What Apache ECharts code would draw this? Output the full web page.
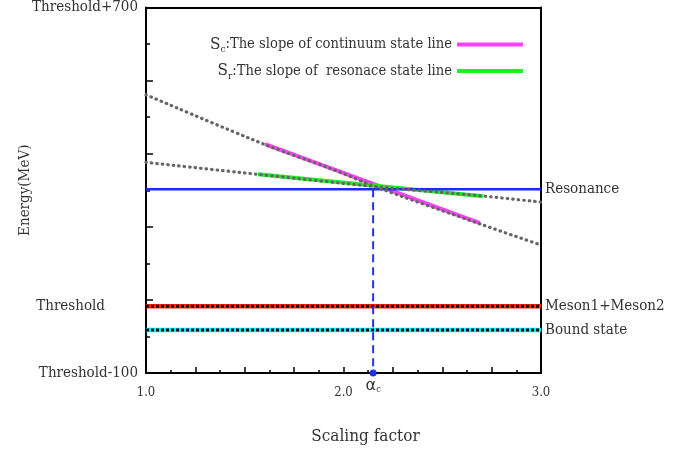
<!DOCTYPE html>
<html>
<head>
<meta charset="utf-8">
<script src="https://cdn.jsdelivr.net/npm/echarts@6/dist/echarts.min.js"></script>
<style>
html,body{margin:0;padding:0;background:#fff;}
#c{width:684px;height:452px;}
</style>
</head>
<body>
<div id="c"></div>
<script>
// ---- data (y in units where 0 = "Threshold-100", 800 = "Threshold+700") ----
const steepX = [1.0, 1.613, 1.932, 2.185, 2.706, 3.0];
const steepY = [609, 498, 448, 404, 324, 280];
const shallowX = [1.0, 1.562, 2.185, 2.691, 3.0];
const shallowY = [461, 435, 407, 388, 374];
const scX = [1.603, 2.691];
const scY = [501, 328];
const srX = [1.567, 2.706];
const srY = [435, 387];
const resonanceLevel = 402;
const mesonLevel = 146;
const boundLevel = 94;
const alphaC = 2.15;
const xMin = 1, xMax = 3;
const yMin = 0, yMax = 800;
const xTickLabels = {1: '1.0', 2: '2.0', 3: '3.0'};
const yTickLabels = {0: 'Threshold-100', 800: 'Threshold+700'};
const legendSc = '{s|S}{sub|c}{t|:The slope of continuum state line}';
const legendSr = '{s|S}{sub|r}{t|:The slope of  resonace state line}';

const FONT = '"DejaVu Serif Condensed", "Liberation Serif", serif';
const TXT = '#333';
const zip = (xs, ys) => xs.map((x, i) => [x, ys[i]]);
const hline = (v) => [[xMin, v], [xMax, v]];

const chart = echarts.init(document.getElementById('c'));
const dotted = {type: [0.5, 5], cap: 'round', width: 3.2, color: '#666'};
const sq = {type: [3, 2], cap: 'butt', width: 3, color: '#111'};
const lab = (text, pos, dist) => ({show: true, position: pos, distance: dist, formatter: text,
  fontFamily: FONT, fontSize: 15, color: TXT});

chart.setOption({
  animation: false,
  backgroundColor: '#fff',
  textStyle: {fontFamily: FONT, color: TXT},
  grid: {left: 146, right: 143, top: 7, bottom: 79, containLabel: false},
  legend: {
    orient: 'vertical', right: 156, top: 31, align: 'right',
    itemWidth: 66, itemHeight: 4, itemGap: 8, icon: 'rect',
    data: ['Sc', 'Sr'],
    formatter: (n) => n === 'Sc' ? legendSc : legendSr,
    textStyle: {
      fontFamily: FONT, color: TXT, fontSize: 14.6,
      rich: {
        s: {fontSize: 17, fontFamily: FONT, color: TXT},
        sub: {fontSize: 10, fontFamily: FONT, color: TXT, padding: [10, 0, 0, 0]},
        t: {fontSize: 14.6, fontFamily: FONT, color: TXT}
      }
    }
  },
  xAxis: [{
    type: 'value', position: 'bottom', min: xMin, max: xMax, interval: 0.25,
    name: 'Scaling factor', nameLocation: 'middle', nameGap: 55, nameMoveOverlap: false,
    nameTextStyle: {fontFamily: FONT, fontSize: 17, color: TXT, padding: [0, 0, 0, 44]},
    axisLine: {show: true, onZero: false, lineStyle: {color: '#000', width: 2}},
    axisTick: {show: true, inside: true, length: 6, lineStyle: {color: '#000', width: 1.5}},
    minorTick: {show: true, splitNumber: 2, length: 3, lineStyle: {color: '#000', width: 1.5}},
    axisLabel: {margin: 13, fontSize: 13, fontFamily: FONT, color: TXT,
      formatter: (v) => xTickLabels[Math.round(v * 1000) / 1000] || ''},
    splitLine: {show: false}
  }, {
    type: 'value', position: 'top', min: xMin, max: xMax,
    axisLine: {show: true, onZero: false, lineStyle: {color: '#000', width: 2}},
    axisTick: {show: false}, axisLabel: {show: false}, splitLine: {show: false}
  }],
  yAxis: [{
    type: 'value', position: 'left', min: yMin, max: yMax, interval: 160,
    name: 'Energy(MeV)', nameLocation: 'middle', nameGap: 113, nameRotate: 90, nameMoveOverlap: false,
    nameTextStyle: {fontFamily: FONT, fontSize: 15, color: TXT},
    axisLine: {show: true, onZero: false, lineStyle: {color: '#000', width: 2}},
    axisTick: {show: true, inside: true, length: 7, lineStyle: {color: '#000', width: 1.5}},
    minorTick: {show: true, splitNumber: 2, length: 4, lineStyle: {color: '#000', width: 1.5}},
    axisLabel: {margin: 8, fontSize: 15, fontFamily: FONT, color: TXT,
      formatter: (v) => yTickLabels[v] || ''},
    splitLine: {show: false}
  }, {
    type: 'value', position: 'right', min: yMin, max: yMax,
    axisLine: {show: true, onZero: false, lineStyle: {color: '#000', width: 2}},
    axisTick: {show: false}, axisLabel: {show: false}, splitLine: {show: false}
  }],
  series: [
    {name: 'Sc', type: 'line', data: zip(scX, scY), showSymbol: false, symbol: 'none',
     lineStyle: {color: '#ff40ff', width: 4}, itemStyle: {color: '#ff40ff'}, z: 2},
    {name: 'Sr', type: 'line', data: zip(srX, srY), showSymbol: false, symbol: 'none',
     lineStyle: {color: '#22ee22', width: 4}, itemStyle: {color: '#22ee22'}, z: 2},
    {name: 'steep', type: 'line', data: zip(steepX, steepY), smooth: 0.3, showSymbol: false, symbol: 'none',
     lineStyle: dotted, z: 3},
    {name: 'shallow', type: 'line', data: zip(shallowX, shallowY), smooth: 0.3, showSymbol: false, symbol: 'none',
     lineStyle: dotted, z: 3},
    {name: 'resonance', type: 'line', showSymbol: true, symbol: 'circle', symbolSize: 0, clip: false,
     data: [hline(resonanceLevel)[0], {value: hline(resonanceLevel)[1], label: lab('Resonance', 'right', 4)}],
     lineStyle: {color: '#1a2bff', width: 2.5}, itemStyle: {color: '#1a2bff'}, z: 2},
    {name: 'meson', type: 'line', showSymbol: true, symbol: 'circle', symbolSize: 0, clip: false,
     data: [{value: hline(mesonLevel)[0], label: lab('Threshold', 'left', 41)},
            {value: hline(mesonLevel)[1], label: lab('Meson1+Meson2', 'right', 4)}],
     lineStyle: {color: '#ff2200', width: 4.5}, itemStyle: {color: '#ff2200'}, z: 2},
    {name: 'mesonDots', type: 'line', data: hline(mesonLevel), showSymbol: false, symbol: 'none',
     lineStyle: sq, z: 3},
    {name: 'bound', type: 'line', showSymbol: true, symbol: 'circle', symbolSize: 0, clip: false,
     data: [hline(boundLevel)[0], {value: hline(boundLevel)[1], label: lab('Bound state', 'right', 4)}],
     lineStyle: {color: '#00f0ff', width: 4.5}, itemStyle: {color: '#00f0ff'}, z: 2},
    {name: 'boundDots', type: 'line', data: hline(boundLevel), showSymbol: false, symbol: 'none',
     lineStyle: sq, z: 3},
    {name: 'alpha', type: 'line', clip: false, symbol: 'circle', symbolSize: 7, showSymbol: true,
     data: [{value: [alphaC, resonanceLevel], symbol: 'none'},
            {value: [alphaC, yMin],
             label: {show: true, position: 'bottom', distance: 1,
               formatter: '{a|α}{b|c}',
               rich: {a: {fontFamily: 'DejaVu Sans', fontSize: 16, color: TXT},
                      b: {fontFamily: FONT, fontSize: 9, color: TXT, padding: [8, 0, 0, 0]}}}}],
     lineStyle: {color: '#2233ee', width: 2, type: [8, 5]}, itemStyle: {color: '#2233ee'}, z: 4}
  ]
});
</script>
</body>
</html>
